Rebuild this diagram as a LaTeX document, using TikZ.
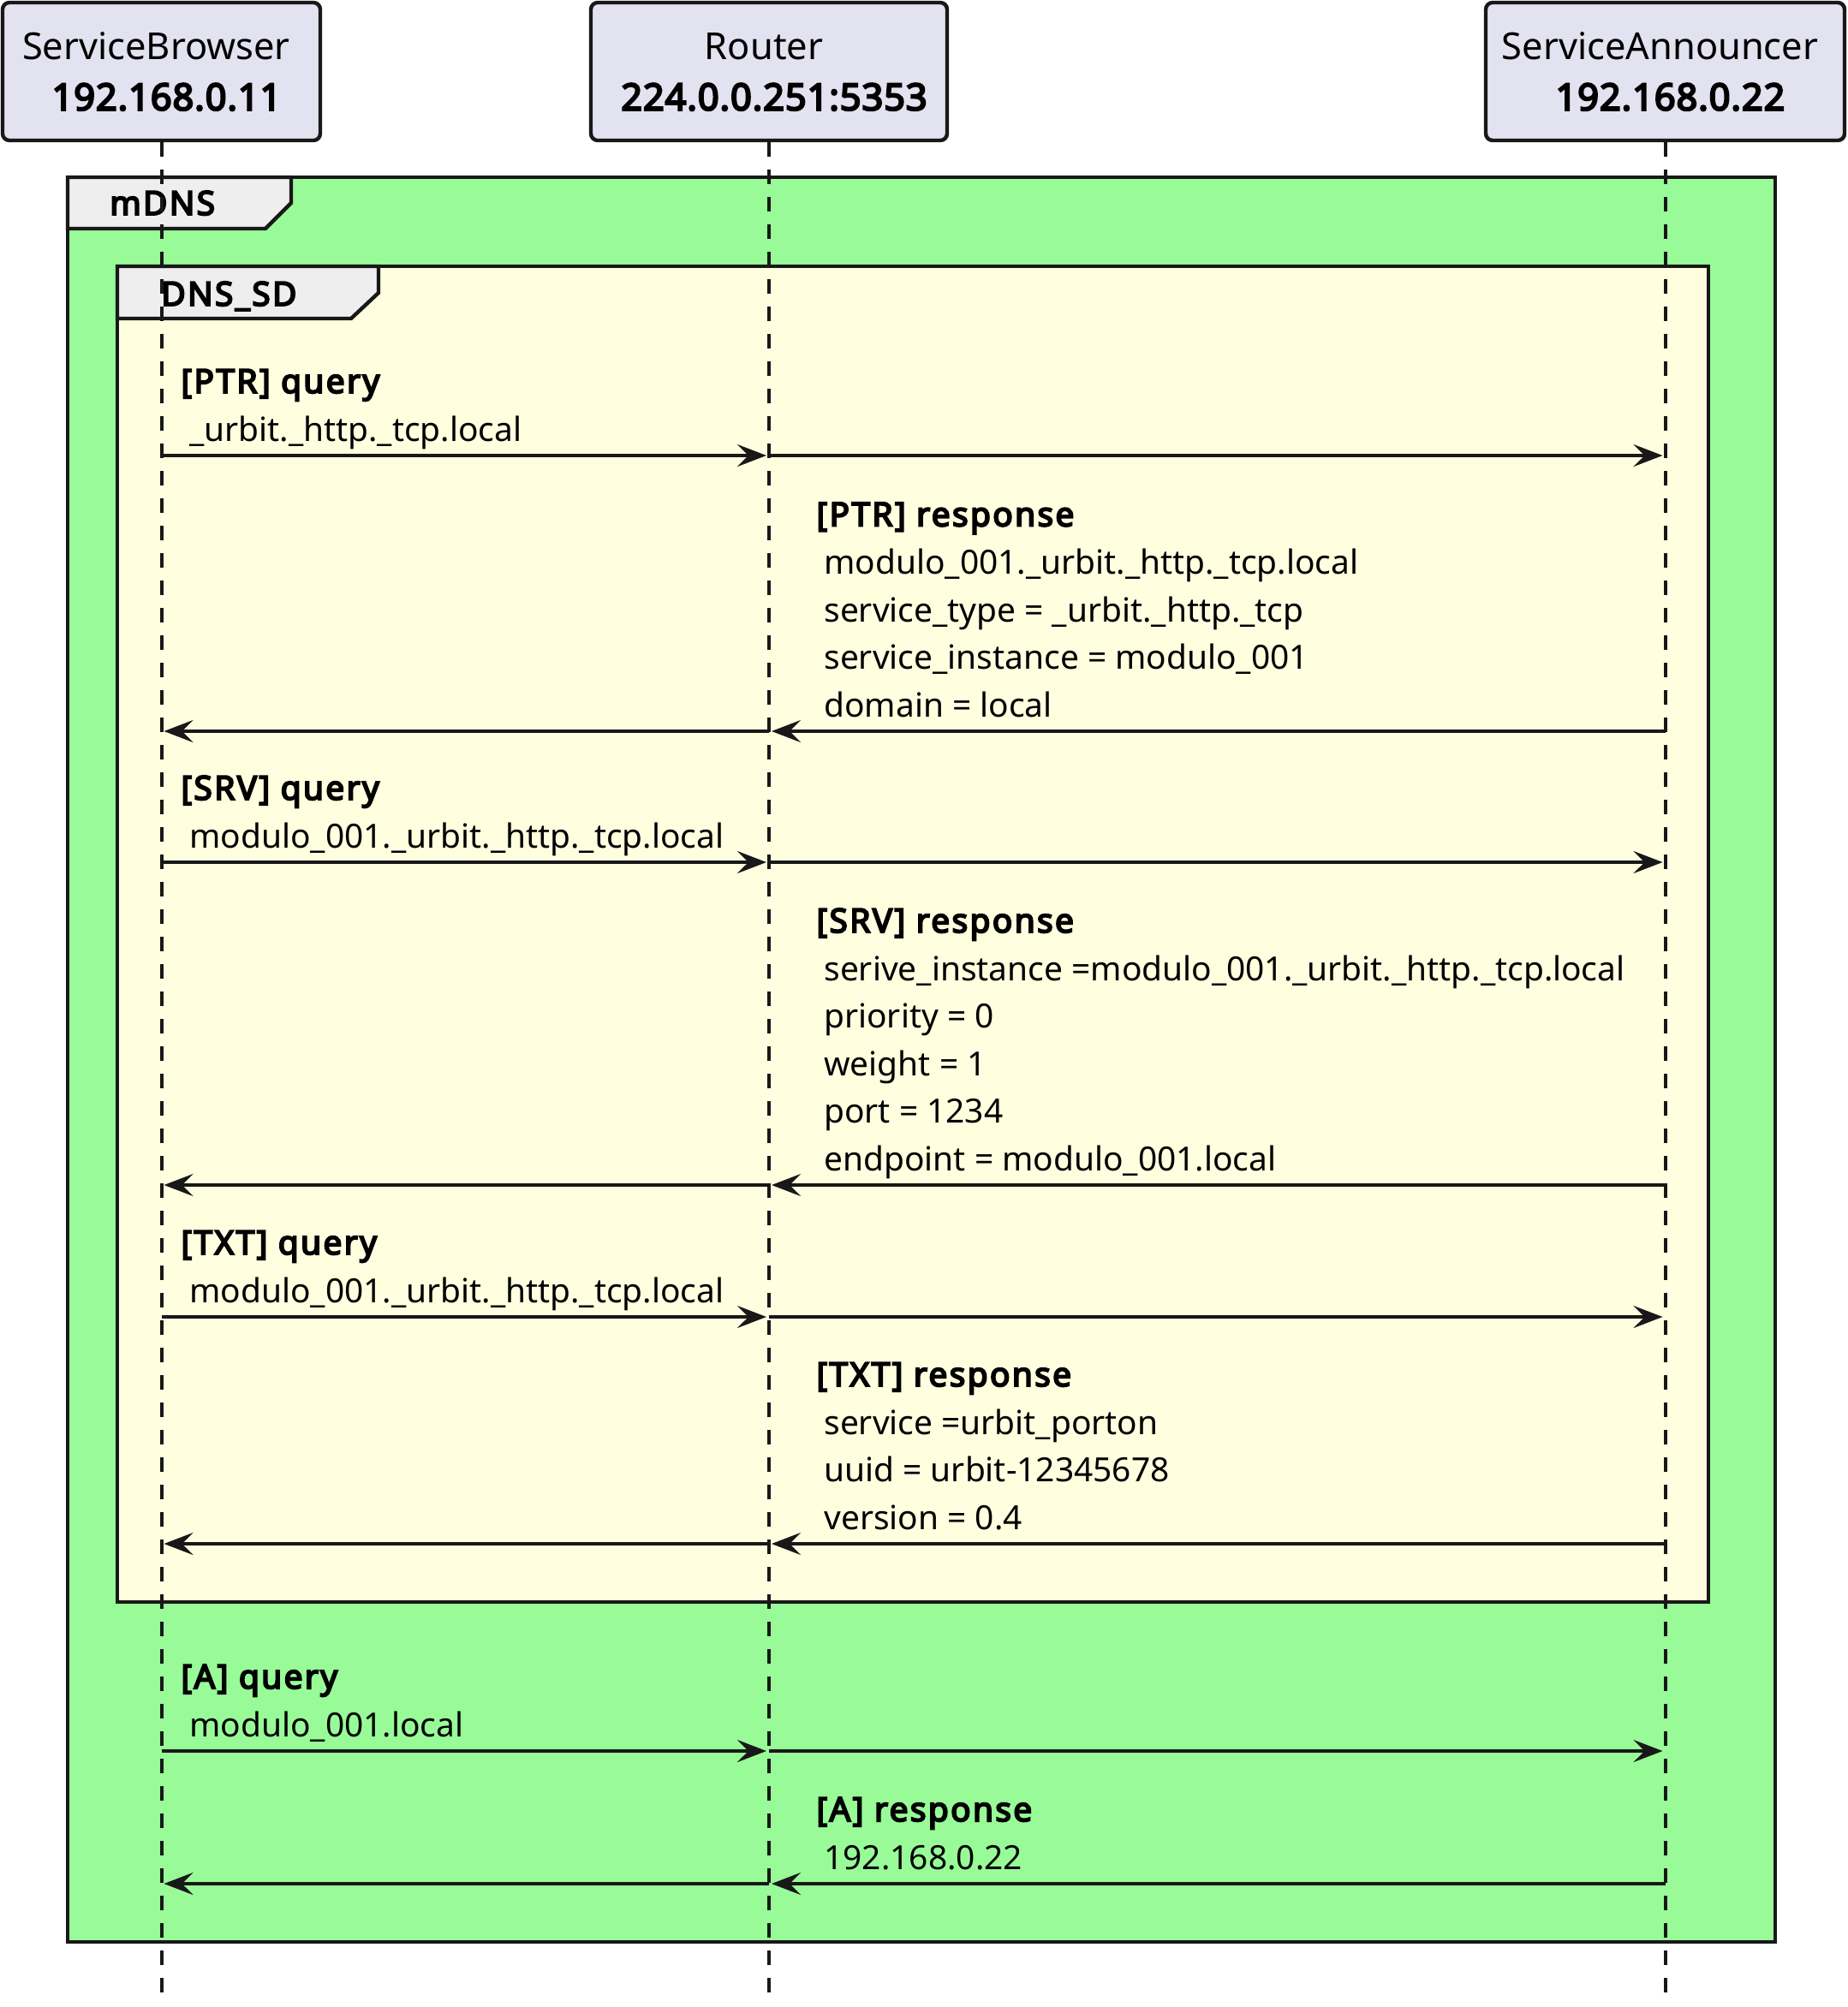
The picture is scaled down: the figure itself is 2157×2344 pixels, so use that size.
\documentclass[tikz,border=0pt]{standalone}
\usepackage{fontspec}
\setmainfont{Noto Sans}
\newfontfamily\bnoto{Noto Sans}[FakeBold=5,LetterSpace=6]
\newfontfamily\bnotop{Noto Sans}[FakeBold=5,LetterSpace=2]
\usetikzlibrary{arrows.meta}
\definecolor{partfill}{HTML}{E2E2F0}
\definecolor{mdnsfill}{HTML}{98FB98}
\definecolor{sdfill}{HTML}{FFFFE0}
\definecolor{tabfill}{HTML}{EEEEEE}
\definecolor{ink}{HTML}{181818}
\newcommand\pline[2]{\rule{0pt}{16pt}\hspace*{-6pt}#1\\\hspace*{6pt}{\bnotop #2}}
\begin{document}
\begin{tikzpicture}[x=0.5pt,y=-0.5pt,
  part/.style={draw=ink, line width=2.2pt, fill=partfill, rounded corners=4pt,
    inner sep=0pt, minimum height=80.5pt, align=center,
    font=\fontsize{21.7pt}{29.5pt}\selectfont},
  lifeline/.style={draw=ink, line width=2pt, dash pattern=on 8.5pt off 7.5pt},
  msg/.style={draw=ink, line width=1.6pt, -{Stealth[length=17pt,width=13pt,inset=6.5pt]}},
  lbl/.style={anchor=base west, inner sep=0pt, font=\fontsize{19.45pt}{27.65pt}\selectfont},
  lblb/.style={anchor=base west, inner sep=0pt, yshift=1.5pt, font=\fontsize{19.45pt}{27.65pt}\bnoto},
  grp/.style={draw=ink, line width=2.2pt},
]
\useasboundingbox (0,0) rectangle (2157,2344);

% groups
\path[grp, fill=mdnsfill] (79,207) rectangle (2073,2268);
\path[grp, fill=tabfill] (79,207) -- (340,207) -- (340,237) -- (310,267) -- (79,267) -- cycle;
\node[lblb, yshift=-1.5pt] (mdnsT) at (128,251) {mDNS};
\path[grp, fill=sdfill] (137,311) rectangle (1995,1871);
\path[grp, fill=tabfill] (137,311) -- (442,311) -- (442,342) -- (410,372) -- (137,372) -- cycle;
\node[lblb, yshift=-1.5pt] (sdT) at (188,357) {DNS\_SD};

% participants
\node[part, minimum width=185.5pt] (sb) at (188.5,83.5) {\pline{ServiceBrowser}{192.168.0.11}};
\node[part, minimum width=208pt] (rt) at (898,83.5) {\pline{Router}{224.0.0.251:5353}};
\node[part, minimum width=209.5pt] (an) at (1944.5,83.5) {\pline{ServiceAnnouncer}{192.168.0.22}};

% lifeline ends
\coordinate (sbE) at (188.5,2329);
\coordinate (rtE) at (898,2329);
\coordinate (anE) at (1944.5,2329);
\draw[lifeline] (sb.south) -- (sbE);
\draw[lifeline] (rt.south) -- (rtE);
\draw[lifeline] (an.south) -- (anE);

% message 1: PTR query
\coordinate (s1) at (188.5,532); \coordinate (r1) at (898,532); \coordinate (a1) at (1944.5,532);
\draw[msg] (s1) -- ([xshift=-1.5pt]r1);
\draw[msg] (r1) -- ([xshift=-1.5pt]a1);
\node[lblb] (t1a) at (211,462) {[PTR] query};
\node[lbl] (t1b) at (221,515) {\_urbit.\_http.\_tcp.local};

% message 2: PTR response
\coordinate (s2) at (188.5,854); \coordinate (r2) at (898,854); \coordinate (a2) at (1944.5,854);
\draw[msg] (a2) -- ([xshift=1.5pt]r2);
\draw[msg] (r2) -- ([xshift=1.5pt]s2);
\node[lblb] (t2a) at (953,617.5) {[PTR] response};
\node[lbl] (t2b) at (962,670.5) {modulo\_001.\_urbit.\_http.\_tcp.local};
\node[lbl] (t2c) at (962,726) {service\_type = \_urbit.\_http.\_tcp};
\node[lbl] (t2d) at (962,781.5) {service\_instance = modulo\_001};
\node[lbl] (t2e) at (962,837) {domain = local};

% message 3: SRV query
\coordinate (s3) at (188.5,1007); \coordinate (r3) at (898,1007); \coordinate (a3) at (1944.5,1007);
\draw[msg] (s3) -- ([xshift=-1.5pt]r3);
\draw[msg] (r3) -- ([xshift=-1.5pt]a3);
\node[lblb] (t3a) at (211,937) {[SRV] query};
\node[lbl] (t3b) at (221,990) {modulo\_001.\_urbit.\_http.\_tcp.local};

% message 4: SRV response
\coordinate (s4) at (188.5,1384); \coordinate (r4) at (898,1384); \coordinate (a4) at (1944.5,1384);
\draw[msg] (a4) -- ([xshift=1.5pt]r4);
\draw[msg] (r4) -- ([xshift=1.5pt]s4);
\node[lblb] (t4a) at (953,1092) {[SRV] response};
\node[lbl] (t4b) at (962,1145) {serive\_instance =modulo\_001.\_urbit.\_http.\_tcp.local};
\node[lbl] (t4c) at (962,1200.5) {priority = 0};
\node[lbl] (t4d) at (962,1256) {weight = 1};
\node[lbl] (t4e) at (962,1311.5) {port = 1234};
\node[lbl] (t4f) at (962,1367) {endpoint = modulo\_001.local};

% message 5: TXT query
\coordinate (s5) at (188.5,1538); \coordinate (r5) at (898,1538); \coordinate (a5) at (1944.5,1538);
\draw[msg] (s5) -- ([xshift=-1.5pt]r5);
\draw[msg] (r5) -- ([xshift=-1.5pt]a5);
\node[lblb] (t5a) at (211,1468) {[TXT] query};
\node[lbl] (t5b) at (221,1521) {modulo\_001.\_urbit.\_http.\_tcp.local};

% message 6: TXT response
\coordinate (s6) at (188.5,1803); \coordinate (r6) at (898,1803); \coordinate (a6) at (1944.5,1803);
\draw[msg] (a6) -- ([xshift=1.5pt]r6);
\draw[msg] (r6) -- ([xshift=1.5pt]s6);
\node[lblb] (t6a) at (953,1622) {[TXT] response};
\node[lbl] (t6b) at (962,1675) {service =urbit\_porton};
\node[lbl] (t6c) at (962,1730.5) {uuid = urbit-12345678};
\node[lbl] (t6d) at (962,1786) {version = 0.4};

% message 7: A query
\coordinate (s7) at (188.5,2045); \coordinate (r7) at (898,2045); \coordinate (a7) at (1944.5,2045);
\draw[msg] (s7) -- ([xshift=-1.5pt]r7);
\draw[msg] (r7) -- ([xshift=-1.5pt]a7);
\node[lblb] (t7a) at (211,1975) {[A] query};
\node[lbl] (t7b) at (221,2028) {modulo\_001.local};

% message 8: A response
\coordinate (s8) at (188.5,2200); \coordinate (r8) at (898,2200); \coordinate (a8) at (1944.5,2200);
\draw[msg] (a8) -- ([xshift=1.5pt]r8);
\draw[msg] (r8) -- ([xshift=1.5pt]s8);
\node[lblb] (t8a) at (953,2130) {[A] response};
\node[lbl] (t8b) at (962,2183) {192.168.0.22};
\end{tikzpicture}
\end{document}
